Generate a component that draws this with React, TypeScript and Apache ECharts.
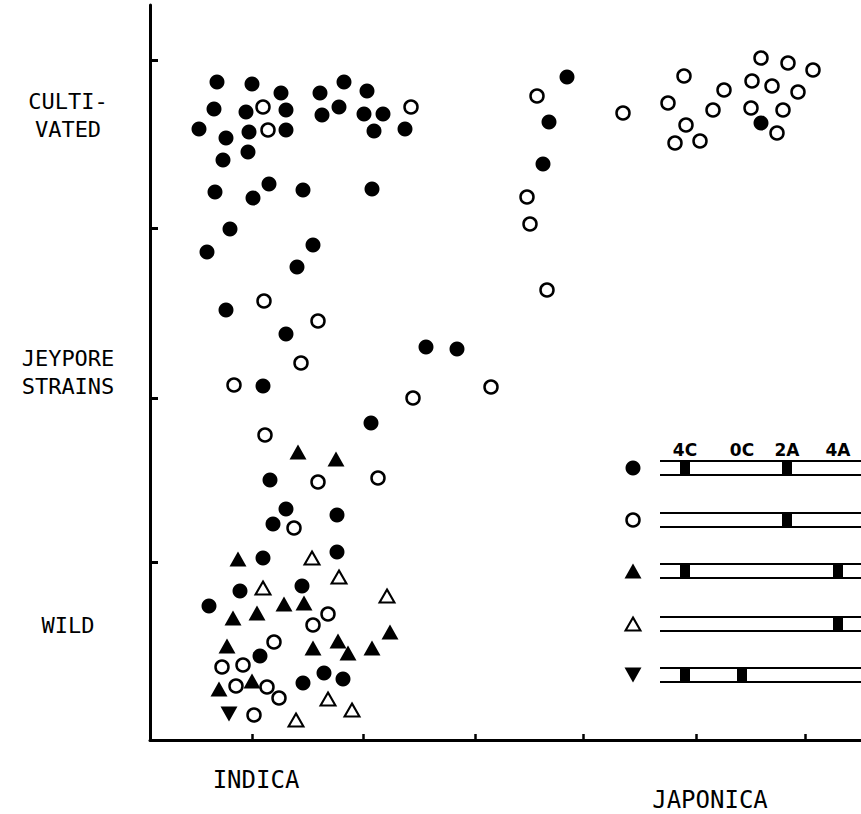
import React, { useEffect, useRef } from "react";
import * as echarts from "echarts";

// Arbitrary units (x grows right, y grows up)
const xTickValues = [102, 213, 325, 433, 546, 655];
const yTickValues = [178, 342, 512, 680];
const groupLabels = ["CULTI-\nVATED", "JEYPORE\nSTRAINS", "WILD"];
const groupLabelValues = [625, 368, 115];
const speciesLabels = ["INDICA", "JAPONICA"];
const speciesLabelValues = [106, 560];

const filledCircles = [
  [67, 658], [102, 656], [131, 647], [170, 647], [194, 658], [217, 649], [64, 631], [96, 628],
  [136, 630], [172, 625], [189, 633], [214, 626], [233, 626], [49, 611], [76, 602], [99, 608],
  [136, 610], [224, 609], [255, 611], [73, 580], [98, 588], [65, 548], [103, 542], [119, 556],
  [153, 550], [222, 551], [80, 511], [57, 488], [163, 495], [147, 473],
  [76, 430], [136, 406], [276, 393], [307, 391], [113, 354], [221, 317], [120, 260],
  [136, 231], [187, 225], [123, 216], [113, 182], [187, 188], [90, 149], [152, 154], [59, 134],
  [110, 84], [174, 67], [193, 61], [153, 57],
  [417, 663], [399, 618], [393, 576], [611, 617],
];

const openCircles = [
  [113, 633], [118, 610], [261, 633],
  [114, 439], [168, 419], [151, 377], [84, 355], [263, 342], [341, 353], [115, 305], [168, 258],
  [228, 262], [144, 212],
  [178, 126], [163, 115], [124, 98], [72, 73], [93, 75], [86, 54], [117, 53], [129, 42], [104, 25],
  [387, 644], [377, 543], [380, 516], [397, 450], [473, 627], [534, 664], [518, 637], [536, 615],
  [525, 597], [550, 599], [563, 630], [574, 650], [611, 682], [638, 677], [663, 670], [602, 659],
  [622, 654], [648, 648], [601, 632], [633, 630], [627, 607],
];

const filledTriangles = [
  [148, 288], [186, 281], [88, 181], [83, 122], [107, 127], [134, 136], [154, 137], [77, 94],
  [163, 92], [188, 99], [198, 87], [222, 92], [240, 108], [69, 51], [102, 59],
];

const openTriangles = [
  [162, 182], [189, 163], [113, 152], [237, 144], [178, 41], [202, 30], [146, 20],
];

const downTriangles = [[79, 26]];

// Key: chromosome bands
const bandNames = ["4C", "0C", "2A", "4A"];
const bandValues = [535, 592, 637, 688];
const keyRowValues = [272, 220, 169, 116, 65];
const keyRowBands = [["4C", "2A"], ["2A"], ["4C", "4A"], ["4A"], ["4C", "0C"]];
const keyHeaderValue = 290;
const keySymbolValue = 483;
const keyLineFrom = 510;
const keyLineTo = 711;

const MONO = "'DejaVu Sans Mono', 'Liberation Mono', monospace";

export default function App() {
  const ref = useRef<HTMLDivElement>(null);
  useEffect(() => {
    if (!ref.current) return;
    const chart = echarts.init(ref.current, null, { renderer: "svg" });

    const black = "#000";
    const filledStyle = { color: black, opacity: 1 };
    const openStyle = { color: "#fff", borderColor: black, borderWidth: 2.5, opacity: 1 };

    const keySymbols = [
      { symbol: "circle", size: 15, style: filledStyle },
      { symbol: "circle", size: 13, style: openStyle },
      { symbol: "triangle", size: [17, 15], style: filledStyle },
      { symbol: "triangle", size: [15, 13], style: { ...openStyle, borderWidth: 2 } },
      { symbol: "triangle", size: [17, 15], style: filledStyle, rotate: 180 },
    ];

    const keyLines: any[] = [];
    keyRowValues.forEach((y) => {
      [-7, 7].forEach((d) => {
        keyLines.push({ coords: [[keyLineFrom, y + d], [keyLineTo, y + d]] });
      });
    });

    const keyBlocks: number[][] = [];
    keyRowBands.forEach((bands, i) => {
      bands.forEach((b) => {
        keyBlocks.push([bandValues[bandNames.indexOf(b)], keyRowValues[i]]);
      });
    });

    const option: any = {
      animation: false,
      backgroundColor: "#fff",
      grid: { left: 150, right: 0, top: 5, bottom: 74 },
      xAxis: {
        type: "value",
        min: 0,
        max: 711,
        splitLine: { show: false },
        axisLine: { show: true, onZero: false, lineStyle: { color: black, width: 3 } },
        axisTick: {
          show: true,
          inside: true,
          length: 6,
          customValues: xTickValues,
          lineStyle: { color: black, width: 2.5 },
        },
        axisLabel: {
          show: true,
          customValues: speciesLabelValues,
          margin: 28,
          formatter: (v: number) => {
            const i = speciesLabelValues.indexOf(v);
            return i === 0 ? `{a|${speciesLabels[0]}}` : `{b|${speciesLabels[1]}}`;
          },
          rich: {
            a: { fontFamily: MONO, fontSize: 24, color: black },
            b: { fontFamily: MONO, fontSize: 24, color: black, padding: [20, 0, 0, 0] },
          },
        },
      },
      yAxis: {
        type: "value",
        min: 0,
        max: 735,
        splitLine: { show: false },
        axisLine: { show: true, onZero: false, lineStyle: { color: black, width: 3 } },
        axisTick: {
          show: true,
          inside: true,
          length: 8,
          customValues: yTickValues,
          lineStyle: { color: black, width: 3 },
        },
        axisLabel: {
          show: true,
          customValues: groupLabelValues,
          margin: 82,
          align: "center",
          fontFamily: MONO,
          fontSize: 22,
          lineHeight: 28,
          color: black,
          formatter: (v: number) => groupLabels[groupLabelValues.indexOf(v)] ?? "",
        },
      },
      series: [
        {
          type: "scatter",
          name: "filled circle",
          symbol: "circle",
          symbolSize: 15,
          itemStyle: filledStyle,
          data: filledCircles,
        },
        {
          type: "scatter",
          name: "open circle",
          symbol: "circle",
          symbolSize: 13,
          itemStyle: openStyle,
          data: openCircles,
        },
        {
          type: "scatter",
          name: "filled triangle",
          symbol: "triangle",
          symbolSize: [17, 15],
          itemStyle: filledStyle,
          data: filledTriangles,
        },
        {
          type: "scatter",
          name: "open triangle",
          symbol: "triangle",
          symbolSize: [15, 13],
          itemStyle: { ...openStyle, borderWidth: 2 },
          data: openTriangles,
        },
        {
          type: "scatter",
          name: "down triangle",
          symbol: "triangle",
          symbolRotate: 180,
          symbolSize: [17, 15],
          itemStyle: filledStyle,
          data: downTriangles,
        },
        {
          type: "lines",
          coordinateSystem: "cartesian2d",
          silent: true,
          lineStyle: { color: black, width: 2, opacity: 1 },
          data: keyLines,
        },
        {
          type: "scatter",
          silent: true,
          symbol: "rect",
          symbolSize: [10, 14],
          itemStyle: { color: black, opacity: 1 },
          data: keyBlocks,
          z: 3,
        },
        ...keySymbols.map((k, i) => ({
          type: "scatter",
          silent: true,
          symbol: k.symbol,
          symbolSize: k.size,
          symbolRotate: k.rotate ?? 0,
          itemStyle: k.style,
          data: [[keySymbolValue, keyRowValues[i]]],
        })),
        {
          type: "scatter",
          silent: true,
          symbolSize: 0,
          itemStyle: { opacity: 1 },
          data: bandValues.map((x, i) => ({ value: [x, keyHeaderValue], name: bandNames[i] })),
          label: {
            show: true,
            position: "inside",
            formatter: (p: any) => p.name,
            fontFamily: "'DejaVu Sans', 'Liberation Sans', sans-serif",
            fontWeight: "bold",
            fontSize: 17,
            color: black,
            opacity: 1,
          },
        },
      ],
    };

    chart.setOption(option);
    return () => chart.dispose();
  }, []);

  return (
    <div
      ref={ref}
      style={{ position: "fixed", left: 0, top: 0, width: 861, height: 814, background: "#fff" }}
    />
  );
}
